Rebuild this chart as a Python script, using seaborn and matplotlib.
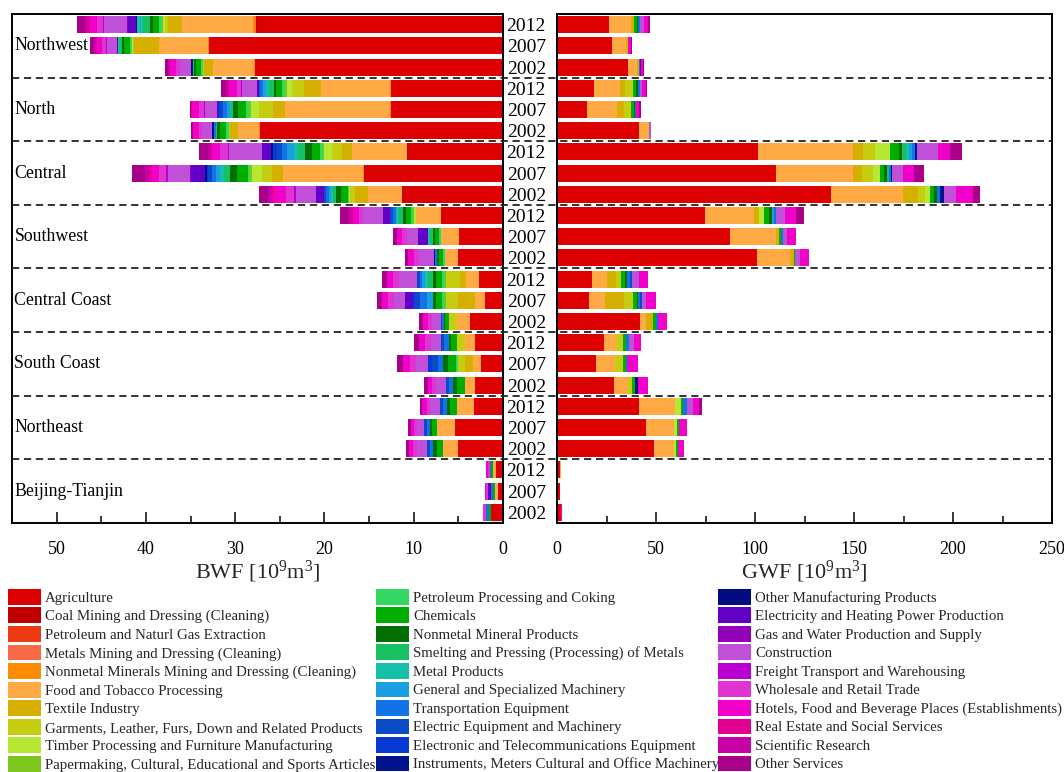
import numpy as np
import matplotlib
matplotlib.use("Agg")
import matplotlib.pyplot as plt
import seaborn as sns
from matplotlib.patches import Patch
from matplotlib.lines import Line2D
from matplotlib.ticker import MultipleLocator
from matplotlib.transforms import blended_transform_factory

sns.set_style("white")
plt.rcParams["font.family"] = ["Liberation Serif", "DejaVu Serif"]
plt.rcParams["mathtext.default"] = "regular"

REGIONS = ["Northwest", "North", "Central", "Southwest", "Central Coast",
           "South Coast", "Northeast", "Beijing-Tianjin"]
YEARS = ["2012", "2007", "2002"]

SECTORS = [
    "Agriculture", "Coal Mining and Dressing (Cleaning)",
    "Petroleum and Naturl Gas Extraction", "Metals Mining and Dressing (Cleaning)",
    "Nonmetal Minerals Mining and Dressing (Cleaning)", "Food and Tobacco Processing",
    "Textile Industry", "Garments, Leather, Furs, Down and Related Products",
    "Timber Processing and Furniture Manufacturing",
    "Papermaking, Cultural, Educational and Sports Articles",
    "Petroleum Processing and Coking", "Chemicals", "Nonmetal Mineral Products",
    "Smelting and Pressing (Processing) of Metals", "Metal Products",
    "General and Specialized Machinery", "Transportation Equipment",
    "Electric Equipment and Machinery", "Electronic and Telecommunications Equipment",
    "Instruments, Meters Cultural and Office Machinery",
    "Other Manufacturing Products", "Electricity and Heating Power Production",
    "Gas and Water Production and Supply", "Construction",
    "Freight Transport and Warehousing", "Wholesale and Retail Trade",
    "Hotels, Food and Beverage Places (Establishments)",
    "Real Estate and Social Services", "Scientific Research", "Other Services",
]

COLORS = [
    "#DD0000", "#C00000", "#EE3A12", "#F76A45", "#FF8C00", "#FFAA44",
    "#D6B000", "#C6CC10", "#B6E832", "#7CC61E",
    "#32D862", "#00AE00", "#006E00", "#18C064", "#16C0A8", "#1AA0E0",
    "#1272E8", "#0A4CC8", "#0838D6", "#00128C",
    "#000C80", "#6200C8", "#9200B8", "#C050D8", "#B800D0", "#E034D2",
    "#F000C8", "#E00092", "#C800A8", "#A80088",
]

# order of values in each bar: same as SECTORS
BWF_NORTHWEST = [
    [27.6, 0.1, 0, 0.1, 0.2, 8.0, 1.5, 0.4, 0.15, 0.1, 0.4, 0.6, 0.4, 0.8, 0.6, 0.1, 0, 0, 0, 0, 0.1, 0.9, 0.1, 2.6, 0.1, 0.6, 0.8, 0.3, 0.3, 0.9],
    [32.9, 0, 0, 0, 0.1, 5.5, 2.8, 0.2, 0.1, 0, 0.2, 0.7, 0.2, 0.3, 0.1, 0, 0, 0, 0, 0, 0, 0.1, 0, 1.2, 0.1, 0.4, 0.6, 0.1, 0.2, 0.5],
    [27.8, 0, 0, 0, 0.1, 4.6, 1.0, 0.1, 0, 0, 0.2, 0.6, 0.2, 0.1, 0, 0, 0, 0, 0, 0.1, 0.1, 0.1, 0, 1.2, 0, 0.4, 0.7, 0.1, 0.1, 0.4],
]
BWF_NORTH = [
    [12.5, 0.1, 0, 0, 0.1, 7.7, 1.9, 1.3, 0.6, 0.2, 0.3, 0.7, 0.3, 0.5, 0.4, 0.3, 0.3, 0.15, 0, 0, 0, 0.2, 0, 1.7, 0.1, 0.5, 0.8, 0.2, 0.2, 0.5],
    [12.5, 0.1, 0, 0, 0.1, 11.7, 1.4, 1.5, 0.9, 0.2, 0.4, 0.9, 0.6, 0.2, 0.1, 0.3, 0.5, 0.3, 0.2, 0, 0, 0.1, 0, 1.4, 0.1, 0.5, 0.8, 0.2, 0, 0.1],
    [27.2, 0, 0, 0, 0.1, 2.4, 0.9, 0.1, 0, 0, 0.3, 0.7, 0.3, 0.2, 0, 0, 0.2, 0, 0, 0.2, 0, 0, 0, 1.1, 0, 0.4, 0.6, 0, 0, 0.2],
]
BWF_CENTRAL = [
    [10.6, 0.1, 0, 0, 0.1, 6.1, 1.1, 1.1, 0.9, 0.2, 0.3, 0.9, 0.75, 0.8, 0.5, 0.7, 0.6, 0.6, 0.4, 0.1, 0.1, 1.0, 0.1, 3.6, 0.2, 0.8, 0.9, 0.2, 0.3, 1.0],
    [15.5, 0.1, 0, 0, 0.1, 8.9, 1.3, 1.1, 1.1, 0.2, 0.3, 1.2, 0.75, 0.75, 0.4, 0.4, 0.5, 0.4, 0.2, 0.1, 0.1, 1.6, 0.1, 2.4, 0.2, 0.8, 0.8, 0.3, 0.5, 1.5],
    [11.2, 0.1, 0, 0, 0, 3.8, 1.5, 0.5, 0.1, 0, 0.2, 0.8, 0.5, 0.3, 0.3, 0.2, 0.3, 0.2, 0, 0.1, 0, 0.9, 0, 2.2, 0.2, 0.9, 1.3, 0.3, 0.4, 1.0],
]
BWF_SOUTHWEST = [
    [6.9, 0, 0, 0, 0, 2.8, 0, 0, 0.3, 0.1, 0.2, 0.6, 0.3, 0.5, 0.25, 0, 0.4, 0.35, 0, 0, 0, 0.75, 0, 2.2, 0, 0.5, 0.6, 0.3, 0.3, 0.9],
    [4.9, 0, 0, 0, 0, 2.0, 0.05, 0, 0, 0, 0.2, 0.5, 0.2, 0.3, 0.25, 0, 0, 0, 0, 0, 0, 1.1, 0, 1.3, 0, 0.5, 0.6, 0, 0, 0.4],
    [5.0, 0, 0, 0, 0, 1.5, 0, 0, 0, 0, 0.2, 0.5, 0.2, 0, 0, 0, 0.2, 0, 0, 0.15, 0, 0, 0, 1.7, 0, 0.5, 0.7, 0, 0, 0.3],
]
BWF_CENTRAL_COAST = [
    [2.7, 0, 0, 0, 0, 1.4, 0.75, 1.5, 0, 0.2, 0.3, 0.6, 0.4, 0.5, 0.4, 0.3, 0.3, 0.3, 0, 0, 0, 0, 0, 2.05, 0, 0.6, 0.7, 0, 0, 0.6],
    [2.05, 0, 0, 0, 0, 1.1, 1.9, 1.3, 0, 0.2, 0.3, 0.6, 0.4, 0, 0, 0.7, 0.8, 0.5, 0.2, 0, 0, 0.9, 0, 1.3, 0, 0.6, 0.7, 0, 0, 0.6],
    [3.7, 0, 0, 0, 0, 1.5, 0, 0.9, 0, 0, 0, 0.4, 0.15, 0, 0, 0, 0.2, 0.15, 0, 0, 0, 0, 0, 0.9, 0, 0.5, 0.6, 0, 0, 0.4],
]
BWF_SOUTH_COAST = [
    [3.1, 0, 0, 0, 0, 1.2, 0, 0.9, 0, 0, 0, 0.6, 0.3, 0, 0, 0, 0.5, 0.4, 0, 0, 0, 0, 0, 1.1, 0, 0.6, 0.7, 0, 0, 0.6],
    [2.5, 0, 0, 0, 0, 0.9, 0.85, 0.75, 0, 0, 0.3, 0.9, 0.5, 0, 0, 0, 0.6, 0.7, 0.4, 0, 0, 0, 0, 1.3, 0, 0.7, 0.8, 0, 0, 0.7],
    [3.1, 0, 0, 0, 0, 1.2, 0, 0, 0, 0, 0, 0.9, 0.4, 0, 0, 0, 0.4, 0.35, 0, 0, 0, 0, 0, 1.1, 0, 0.5, 0.5, 0, 0, 0.4],
]
BWF_NORTHEAST = [
    [3.2, 0, 0, 0, 0, 2.0, 0, 0, 0, 0, 0, 0.7, 0.4, 0, 0, 0, 0.4, 0.35, 0, 0, 0, 0, 0, 1.1, 0, 0.4, 0.5, 0, 0, 0.3],
    [5.4, 0, 0, 0, 0, 2.0, 0, 0, 0, 0, 0, 0.5, 0.25, 0, 0, 0, 0.4, 0.35, 0, 0, 0, 0, 0, 0.75, 0, 0.3, 0.4, 0, 0, 0.25],
    [5.0, 0, 0, 0, 0, 1.7, 0, 0, 0, 0, 0, 0.7, 0.4, 0, 0, 0, 0.4, 0.35, 0, 0, 0, 0, 0, 1.1, 0, 0.4, 0.5, 0, 0, 0.3],
]
BWF_BEIJING_TIANJIN = [
    [0.75, 0, 0, 0, 0, 0.37, 0, 0, 0, 0, 0, 0.2, 0, 0, 0, 0, 0.17, 0, 0, 0, 0, 0, 0, 0, 0, 0.2, 0.17, 0, 0, 0],
    [0.55, 0, 0, 0, 0, 0.4, 0, 0, 0, 0, 0, 0.2, 0, 0, 0, 0, 0.2, 0, 0, 0, 0, 0.3, 0, 0, 0, 0.2, 0.15, 0, 0, 0],
    [1.3, 0, 0, 0, 0, 0, 0, 0, 0, 0, 0, 0.3, 0, 0, 0, 0, 0.3, 0, 0, 0, 0, 0, 0, 0, 0, 0.33, 0, 0, 0, 0],
]

GWF_NORTHWEST = [
    [26.5, 0, 0, 0, 0, 10.9, 1.3, 0, 0, 0, 0, 1.6, 0.8, 0, 0, 0, 0.9, 0, 0, 0, 0, 0, 0, 1.8, 0, 0, 2.0, 0, 0, 1.3],
    [27.9, 0, 0, 0, 0, 6.7, 1.3, 0, 0, 0, 0, 0, 0, 0, 0, 0, 0, 0, 0, 0, 0, 0, 0, 0, 0, 0, 1.3, 0, 0, 0.7],
    [36.1, 0, 0, 0, 0, 4.4, 1.1, 0, 0, 0, 0, 0, 0, 0, 0, 0, 0.4, 0, 0, 0, 0, 0.3, 0, 0, 0, 0, 1.2, 0, 0, 0.6],
]
GWF_NORTH = [
    [18.9, 0, 0, 0, 0, 13.1, 2.4, 4.0, 0, 0, 0, 1.6, 0.8, 0, 0, 0, 0.9, 0, 0, 0, 0, 0, 0, 1.3, 0, 0, 1.7, 0, 0, 1.0],
    [14.9, 0, 0, 0, 0, 15.6, 3.5, 3.2, 0, 0, 0, 1.5, 0.7, 0, 0, 0, 0.5, 0, 0, 0, 0, 0, 0, 0, 0, 0, 1.7, 0, 0, 1.0],
    [41.5, 0, 0, 0, 0, 4.4, 0, 0.7, 0, 0, 0, 0, 0, 0, 0, 0, 0, 0, 0, 0, 0, 0, 0, 1.1, 0, 0, 0, 0, 0, 0],
]
GWF_CENTRAL = [
    [101.4, 0, 0, 0, 0, 47.9, 5.1, 6.3, 7.3, 0, 0, 4.5, 1.8, 2.0, 1.6, 1.5, 1.2, 0, 0, 1.3, 0, 0, 0, 10.5, 0, 0, 6.0, 0, 0, 6.3],
    [110.4, 0, 0, 0, 0, 39.3, 4.5, 5.4, 3.3, 0, 0, 2.2, 1.5, 1.3, 0, 0, 1.0, 0, 0, 0.5, 0, 0, 0, 5.3, 0, 0, 5.6, 0, 0, 4.9],
    [138.5, 0, 0, 0, 0, 36.1, 7.8, 3.6, 2.4, 0, 0, 2.2, 1.3, 0, 0, 0, 1.5, 0, 0, 2.2, 0, 0, 0, 6.0, 0, 0, 8.7, 0, 0, 3.4],
]
GWF_SOUTHWEST = [
    [74.8, 0, 0, 0, 0, 24.7, 2.5, 0, 2.7, 0, 0, 2.6, 1.2, 0, 0, 1.2, 1.0, 0, 0, 0, 0, 0, 0, 4.5, 0, 0, 5.4, 0, 0, 4.2],
    [87.6, 0, 0, 0, 0, 23.0, 1.5, 0, 0, 0, 0, 0.9, 0, 0, 0, 0, 1.3, 0, 0, 0, 0, 0, 0, 1.8, 0, 0, 4.5, 0, 0, 0],
    [100.8, 0, 0, 0, 0, 16.9, 1.8, 0, 0, 0, 0, 0.9, 0, 0, 0, 0, 0, 0, 0, 0, 0, 0, 0, 2.2, 0, 0, 4.5, 0, 0, 0],
]
GWF_CENTRAL_COAST = [
    [17.6, 0, 0, 0, 0, 7.8, 4.5, 2.4, 0, 0, 0, 2.2, 0.9, 0, 0, 0, 1.4, 1.3, 0, 0, 0, 0, 0, 3.3, 0, 0, 4.4, 0, 0, 0],
    [16.0, 0, 0, 0, 0, 8.2, 9.4, 4.9, 0, 0, 0, 1.7, 0.7, 0, 0, 0, 1.2, 1.0, 0, 0, 0, 0, 0, 2.0, 0, 0, 4.9, 0, 0, 0],
    [41.7, 0, 0, 0, 0, 3.3, 3.6, 0, 0, 0, 0, 1.3, 0, 0, 0, 0, 1.3, 0, 0, 0, 0, 0, 0, 0, 0, 0, 4.2, 0, 0, 0],
]
GWF_SOUTH_COAST = [
    [23.6, 0, 0, 0, 0, 6.3, 0, 3.3, 0, 0, 0, 1.6, 0, 0, 0, 0, 1.8, 0, 0, 0, 0, 0, 0, 2.4, 0, 0, 3.4, 0, 0, 0],
    [19.9, 0, 0, 0, 0, 9.4, 0, 3.8, 0, 0, 0, 1.6, 0, 0, 0, 0, 0.9, 0, 0, 0, 0, 0, 0, 0, 0, 0, 5.3, 0, 0, 0],
    [29.0, 0, 0, 0, 0, 6.7, 0, 2.4, 0, 0, 0, 1.3, 0, 0, 0, 0, 0, 0, 0, 1.5, 0, 0, 0, 0, 0, 0, 4.9, 0, 0, 0],
]
GWF_NORTHEAST = [
    [41.3, 0, 0, 0, 0, 18.5, 0, 0, 2.7, 0, 0, 1.3, 0, 0, 0, 0, 2.0, 0, 0, 0, 0, 0, 0, 3.1, 0, 0, 2.6, 0, 0, 1.6],
    [45.0, 0, 0, 0, 0, 14.0, 0, 0, 1.8, 0, 0, 0.9, 0, 0, 0, 0, 0, 0, 0, 0, 0, 0, 0, 0, 0, 0, 4.0, 0, 0, 0],
    [49.0, 0, 0, 0, 0, 10.0, 0, 0, 1.3, 0, 0, 0.9, 0, 0, 0, 0, 0, 0, 0, 0, 0, 0, 0, 0, 0, 0, 2.9, 0, 0, 0],
]
GWF_BEIJING_TIANJIN = [
    [1.6, 0, 0, 0, 0, 0.2, 0, 0, 0, 0, 0, 0, 0, 0, 0, 0, 0, 0, 0, 0, 0, 0, 0, 0, 0, 0, 0.1, 0, 0, 0],
    [1.3, 0, 0, 0, 0, 0.2, 0, 0, 0, 0, 0, 0, 0, 0, 0, 0, 0, 0, 0, 0, 0, 0, 0, 0, 0, 0, 0.1, 0, 0, 0],
    [2.0, 0, 0, 0, 0, 0.2, 0, 0, 0, 0, 0, 0, 0, 0, 0, 0, 0, 0, 0, 0, 0, 0, 0, 0, 0, 0, 0.1, 0, 0, 0],
]

BWF = [BWF_NORTHWEST, BWF_NORTH, BWF_CENTRAL, BWF_SOUTHWEST, BWF_CENTRAL_COAST,
       BWF_SOUTH_COAST, BWF_NORTHEAST, BWF_BEIJING_TIANJIN]
GWF = [GWF_NORTHWEST, GWF_NORTH, GWF_CENTRAL, GWF_SOUTHWEST, GWF_CENTRAL_COAST,
       GWF_SOUTH_COAST, GWF_NORTHEAST, GWF_BEIJING_TIANJIN]

ROWS = [f"{r} {y}" for r in REGIONS for y in YEARS]

W, H = 1064, 772
fig = plt.figure(figsize=(W / 100, H / 100), dpi=100)
ax_bottom = 1 - 523 / H
ax_height = (523 - 14) / H
axL = fig.add_axes([12 / W, ax_bottom, 491 / W, ax_height])
axR = fig.add_axes([557 / W, ax_bottom, 495 / W, ax_height])


def draw_panel(ax, panel):
    vals = np.array([bar for region in panel for bar in region], dtype=float)
    assert vals.shape == (len(ROWS), len(SECTORS)), vals.shape
    cum = np.cumsum(vals, axis=1)
    for k in range(len(SECTORS) - 1, -1, -1):
        sns.barplot(x=cum[:, k], y=ROWS, order=ROWS, orient="y",
                    color=COLORS[k], saturation=1, width=0.8,
                    errorbar=None, linewidth=0, ax=ax)


draw_panel(axL, BWF)
draw_panel(axR, GWF)

for ax in (axL, axR):
    ax.set_ylim(len(ROWS) - 0.5, -0.5)
    ax.set_xlabel("")
    ax.set_ylabel("")
    for s in ax.spines.values():
        s.set_visible(True)
        s.set_color("black")
        s.set_linewidth(1.4)
    ax.tick_params(axis="x", which="both", direction="in", bottom=True, top=False,
                   labelsize=13, pad=13, colors="black")
    ax.tick_params(axis="x", which="major", length=8, width=1.1)
    ax.tick_params(axis="x", which="minor", length=5, width=1.1)

axL.set_xlim(55, 0)
axL.xaxis.set_major_locator(MultipleLocator(10))
axL.xaxis.set_minor_locator(MultipleLocator(5))
axR.set_xlim(0, 250)
axR.xaxis.set_major_locator(MultipleLocator(50))
axR.xaxis.set_minor_locator(MultipleLocator(25))

axL.set_yticks([])
axL.tick_params(axis="y", left=False, labelleft=False)
axR.set_yticks(range(len(ROWS)))
axR.set_yticklabels(YEARS * len(REGIONS))
axR.tick_params(axis="y", left=True, labelleft=True, length=0, pad=8,
                labelsize=14, colors="black")

# region names
trL = blended_transform_factory(axL.transAxes, axL.transData)
for i, r in enumerate(REGIONS):
    axL.text(0.005, 3 * i + 1, r, transform=trL, ha="left", va="center",
             fontsize=12.8, color="black")

# dashed separators across both panels
trF = blended_transform_factory(fig.transFigure, axL.transData)
for i in range(1, len(REGIONS)):
    fig.add_artist(Line2D([12 / W, 1052 / W], [3 * i - 0.5, 3 * i - 0.5],
                          transform=trF, color="#222222", lw=1.3,
                          ls=(0, (4, 2.6))))

fig.text(257.5 / W, 1 - 572 / H, "BWF [10$^{9}$m$^{3}$]", ha="center",
         va="center", fontsize=16)
fig.text(804.5 / W, 1 - 572 / H, "GWF [10$^{9}$m$^{3}$]", ha="center",
         va="center", fontsize=16)

handles = [Patch(facecolor=c, edgecolor="none") for c in COLORS]
col_x = [8, 376, 718]
for j in range(3):
    fig.legend(handles[10 * j:10 * j + 10], SECTORS[10 * j:10 * j + 10],
               loc="upper left", bbox_to_anchor=(col_x[j] / W, 1 - 589 / H),
               frameon=False, fontsize=10.7, handlelength=2.2,
               handleheight=1.24, handletextpad=0.3, labelspacing=0.18,
               borderpad=0, borderaxespad=0)

fig.savefig("out.png", dpi=100)
